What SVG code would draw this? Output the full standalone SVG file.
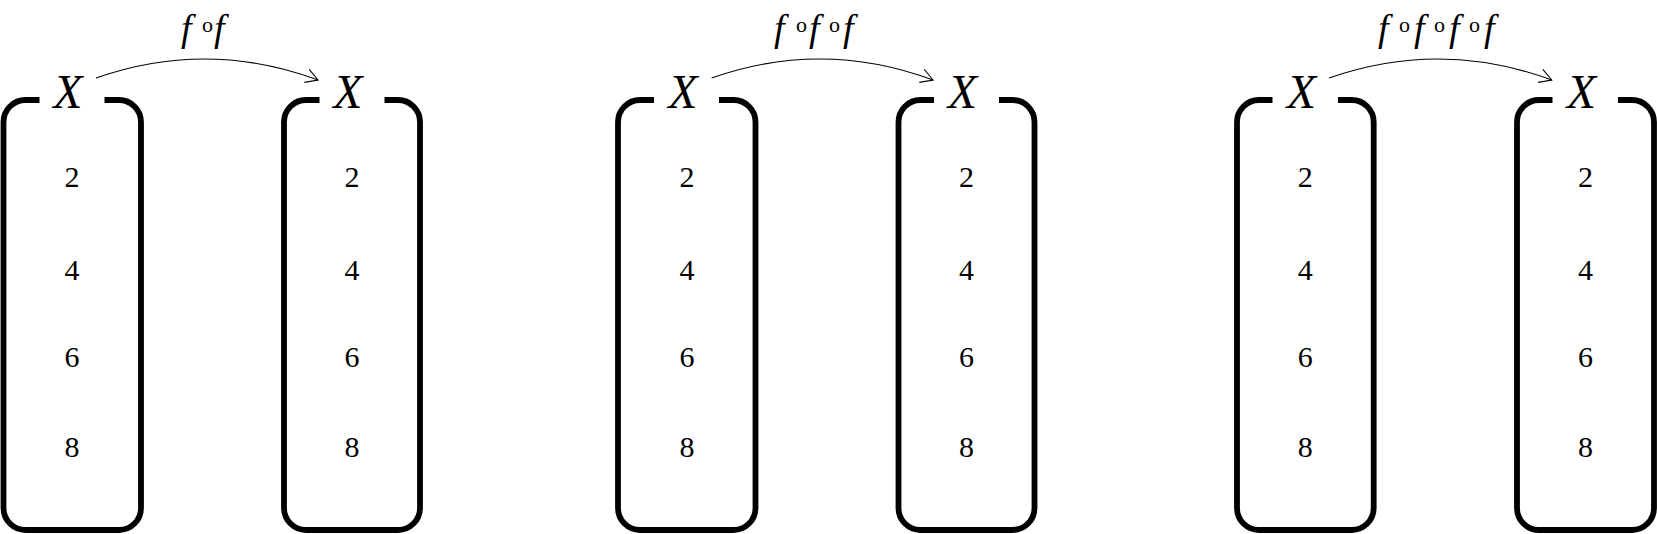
<svg xmlns="http://www.w3.org/2000/svg" width="1657" height="534" viewBox="0 0 1657 534">
<style>
.box{fill:none;stroke:#000;stroke-width:5.8;stroke-linecap:butt}
.num{font-family:'Liberation Serif','DejaVu Serif',serif;font-size:30px;text-anchor:middle;fill:#000}
.set{font-family:'Liberation Serif','DejaVu Serif',serif;font-style:italic;font-size:48px;text-anchor:middle;fill:#000}
.lbl{font-family:'Liberation Serif','DejaVu Serif',serif;font-style:italic;font-size:38px;fill:#000}
.sup{font-style:normal;font-size:22px}
.arr{fill:none;stroke:#000;stroke-width:1.1}
</style>
<defs>
<marker id="ah" markerUnits="userSpaceOnUse" markerWidth="30" markerHeight="30" refX="0" refY="0" viewBox="-15 -15 30 30" orient="auto">
<path d="M-12,-7 L0,0 L-12,7" fill="none" stroke="#000" stroke-width="1.1"/>
</marker>
</defs>
<rect width="1657" height="534" fill="#fff"/>

<g id="set1a">
<path class="box" d="M39.5,100 H25.5 A22,22 0 0 0 3.5,122 V508 A22,22 0 0 0 25.5,530 H119 A22,22 0 0 0 141,508 V122 A22,22 0 0 0 119,100 H104.5"/>
<text class="set" x="68" y="108">X</text>
<text class="num" x="72" y="187">2</text><text class="num" x="72" y="280">4</text><text class="num" x="72" y="367">6</text><text class="num" x="72" y="457">8</text>
</g>
<g id="set1b">
<path class="box" d="M319.5,100 H306 A22,22 0 0 0 284,122 V508 A22,22 0 0 0 306,530 H398 A22,22 0 0 0 420,508 V122 A22,22 0 0 0 398,100 H384.5"/>
<text class="set" x="348" y="108">X</text>
<text class="num" x="352" y="187">2</text><text class="num" x="352" y="280">4</text><text class="num" x="352" y="367">6</text><text class="num" x="352" y="457">8</text>
</g>
<g id="set2a">
<path class="box" d="M654,100 H640 A22,22 0 0 0 618,122 V508 A22,22 0 0 0 640,530 H733.5 A22,22 0 0 0 755.5,508 V122 A22,22 0 0 0 733.5,100 H719"/>
<text class="set" x="683" y="108">X</text>
<text class="num" x="687" y="187">2</text><text class="num" x="687" y="280">4</text><text class="num" x="687" y="367">6</text><text class="num" x="687" y="457">8</text>
</g>
<g id="set2b">
<path class="box" d="M934,100 H920.5 A22,22 0 0 0 898.5,122 V508 A22,22 0 0 0 920.5,530 H1012.5 A22,22 0 0 0 1034.5,508 V122 A22,22 0 0 0 1012.5,100 H999"/>
<text class="set" x="962.5" y="108">X</text>
<text class="num" x="966.5" y="187">2</text><text class="num" x="966.5" y="280">4</text><text class="num" x="966.5" y="367">6</text><text class="num" x="966.5" y="457">8</text>
</g>
<g id="set3a">
<path class="box" d="M1272.5,100 H1259 A22,22 0 0 0 1237,122 V508 A22,22 0 0 0 1259,530 H1351.7 A22,22 0 0 0 1373.7,508 V122 A22,22 0 0 0 1351.7,100 H1338"/>
<text class="set" x="1301.5" y="108">X</text>
<text class="num" x="1305.3" y="187">2</text><text class="num" x="1305.3" y="280">4</text><text class="num" x="1305.3" y="367">6</text><text class="num" x="1305.3" y="457">8</text>
</g>
<g id="set3b">
<path class="box" d="M1552.5,100 H1539 A22,22 0 0 0 1517,122 V508 A22,22 0 0 0 1539,530 H1632 A22,22 0 0 0 1654,508 V122 A22,22 0 0 0 1632,100 H1618"/>
<text class="set" x="1581.5" y="108">X</text>
<text class="num" x="1585.5" y="187">2</text><text class="num" x="1585.5" y="280">4</text><text class="num" x="1585.5" y="367">6</text><text class="num" x="1585.5" y="457">8</text>
</g>

<g id="connectors">
<path class="arr" d="M96,78 Q207,39 318,80" marker-end="url(#ah)"/>
<path class="arr" d="M711.7,78 Q822.5,39 933,80" marker-end="url(#ah)"/>
<path class="arr" d="M1329,78 Q1440.5,39 1551.7,80" marker-end="url(#ah)"/>
</g>

<g id="labels">
<text class="lbl" y="41"><tspan x="181">f</tspan><tspan class="sup" x="202" y="32">o</tspan><tspan x="214" y="41">f</tspan></text>
<text class="lbl" y="41"><tspan x="774">f</tspan><tspan class="sup" x="796" y="32">o</tspan><tspan x="809" y="41">f</tspan><tspan class="sup" x="829" y="32">o</tspan><tspan x="843" y="41">f</tspan></text>
<text class="lbl" y="41"><tspan x="1378">f</tspan><tspan class="sup" x="1399" y="32">o</tspan><tspan x="1414" y="41">f</tspan><tspan class="sup" x="1434" y="32">o</tspan><tspan x="1449" y="41">f</tspan><tspan class="sup" x="1469" y="32">o</tspan><tspan x="1484" y="41">f</tspan></text>
</g>
</svg>
